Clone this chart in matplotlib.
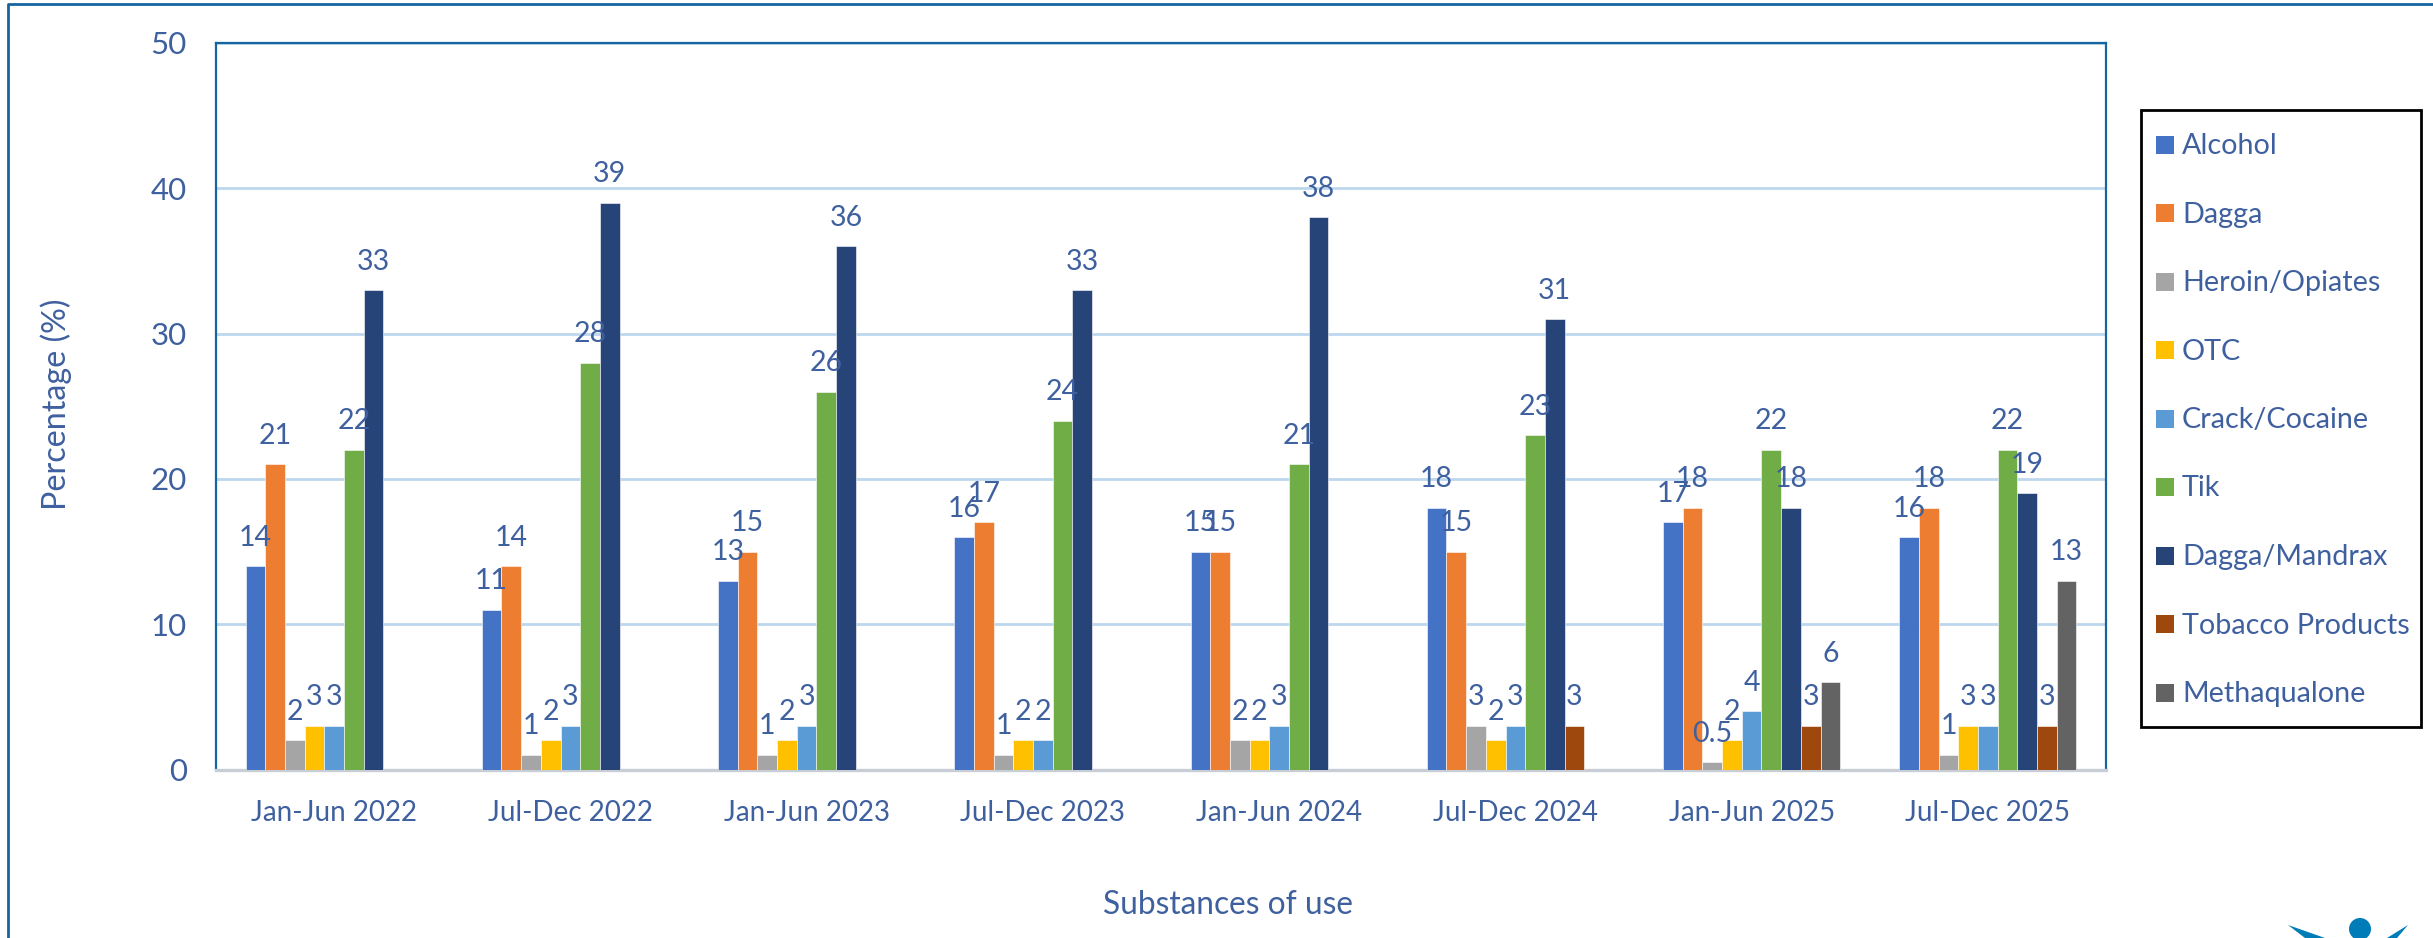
import matplotlib
matplotlib.use("Agg")
import matplotlib.pyplot as plt
from matplotlib.patches import Circle, Polygon, Rectangle
import numpy as np

W, H = 2433, 938

periods = ["Jan-Jun 2022", "Jul-Dec 2022", "Jan-Jun 2023", "Jul-Dec 2023",
           "Jan-Jun 2024", "Jul-Dec 2024", "Jan-Jun 2025", "Jul-Dec 2025"]
substances = ["Alcohol", "Dagga", "Heroin/Opiates", "OTC", "Crack/Cocaine",
              "Tik", "Dagga/Mandrax", "Tobacco Products", "Methaqualone"]
colors = ["#4472C4", "#ED7D31", "#A5A5A5", "#FFC000", "#5B9BD5",
          "#70AD47", "#264478", "#9E480E", "#636363"]

alcohol = [14, 11, 13, 16, 15, 18, 17, 16]
dagga = [21, 14, 15, 17, 15, 15, 18, 18]
heroin = [2, 1, 1, 1, 2, 3, 0.5, 1]
otc = [3, 2, 2, 2, 2, 2, 2, 3]
crack = [3, 3, 3, 2, 3, 3, 4, 3]
tik = [22, 28, 26, 24, 21, 23, 22, 22]
mandrax = [33, 39, 36, 33, 38, 31, 18, 19]
tobacco = [None, None, None, None, None, 3, 3, 3]
methaqualone = [None, None, None, None, None, None, 6, 13]
series = [alcohol, dagga, heroin, otc, crack, tik, mandrax, tobacco, methaqualone]

TEXT = "#3F609F"
FRAME = "#1465A0"

plt.rcParams["font.family"] = ["Lato", "DejaVu Sans"]

fig = plt.figure(figsize=(W / 100, H / 100), dpi=100)
ax = fig.add_axes([216 / W, 1 - 769.5 / H, (2106 - 216) / W, (769.5 - 43) / H])

bar_w = 1 / 12
x = np.arange(len(periods))
for i, (vals, name, col) in enumerate(zip(series, substances, colors)):
    offs = x + (i - 4) * bar_w
    for xi, v in zip(offs, vals):
        if v is None:
            continue
        ax.bar(xi, v, width=bar_w, color=col, edgecolor="white", linewidth=0.4, zorder=3)
        ax.annotate(str(v), (xi, v), xytext=(0, 20.5), textcoords="offset points",
                    ha="center", va="center", fontsize=20.5, color=TEXT, zorder=4)

ax.set_xlim(-0.5, len(periods) - 0.5)
ax.set_ylim(0, 50)
ax.set_yticks(range(0, 51, 10))
ax.set_xticks(x)
ax.set_xticklabels(periods)
ax.tick_params(axis="x", length=0, labelsize=20, labelcolor=TEXT, pad=22)
ax.tick_params(axis="y", length=0, labelsize=22.5, labelcolor=TEXT, pad=21)
ax.grid(axis="y", color="#BDD7EE", linewidth=2, zorder=1)
ax.set_axisbelow(True)
for side in ["left", "right", "top"]:
    ax.spines[side].set_color(FRAME)
    ax.spines[side].set_linewidth(1.6)
ax.spines["bottom"].set_color("#C9CED6")
ax.spines["bottom"].set_linewidth(2.4)

# legend and axis titles placed by hand in pixel space to line up with the original
bg = fig.add_axes([0, 0, 1, 1], zorder=5)
bg.set_xlim(0, W)
bg.set_ylim(H, 0)
bg.axis("off")
bg.text(56, 404, "Percentage (%)", fontsize=23.2, color=TEXT, rotation=90, ha="center", va="center")
bg.text(1228, 905, "Substances of use", fontsize=22.8, color=TEXT, ha="center", va="center")
bg.add_patch(Rectangle((2141, 110), 280, 617, fc="white", ec="black", lw=2))
for i, (name, col) in enumerate(zip(substances, colors)):
    yc = 145 + i * 68.5
    bg.add_patch(Rectangle((2156, yc - 9), 18, 18, fc=col, ec="none"))
    bg.text(2182, yc + 1, name, fontsize=20.7, color=TEXT, va="center", ha="left")

# outer frame, only top and left are in the crop
bg.plot([8, 8, W], [H, 4, 4], color=FRAME, lw=2)

# logo fragment at the bottom edge
logo = "#007DB8"
bg.add_patch(Circle((2360, 929), 11, fc=logo, ec="none"))
bg.add_patch(Polygon([(2288, 925), (2325, 938), (2305, 938)], fc=logo, ec="none"))
bg.add_patch(Polygon([(2408, 925), (2387, 938), (2397, 938)], fc=logo, ec="none"))

fig.savefig("out.png", dpi=100)
